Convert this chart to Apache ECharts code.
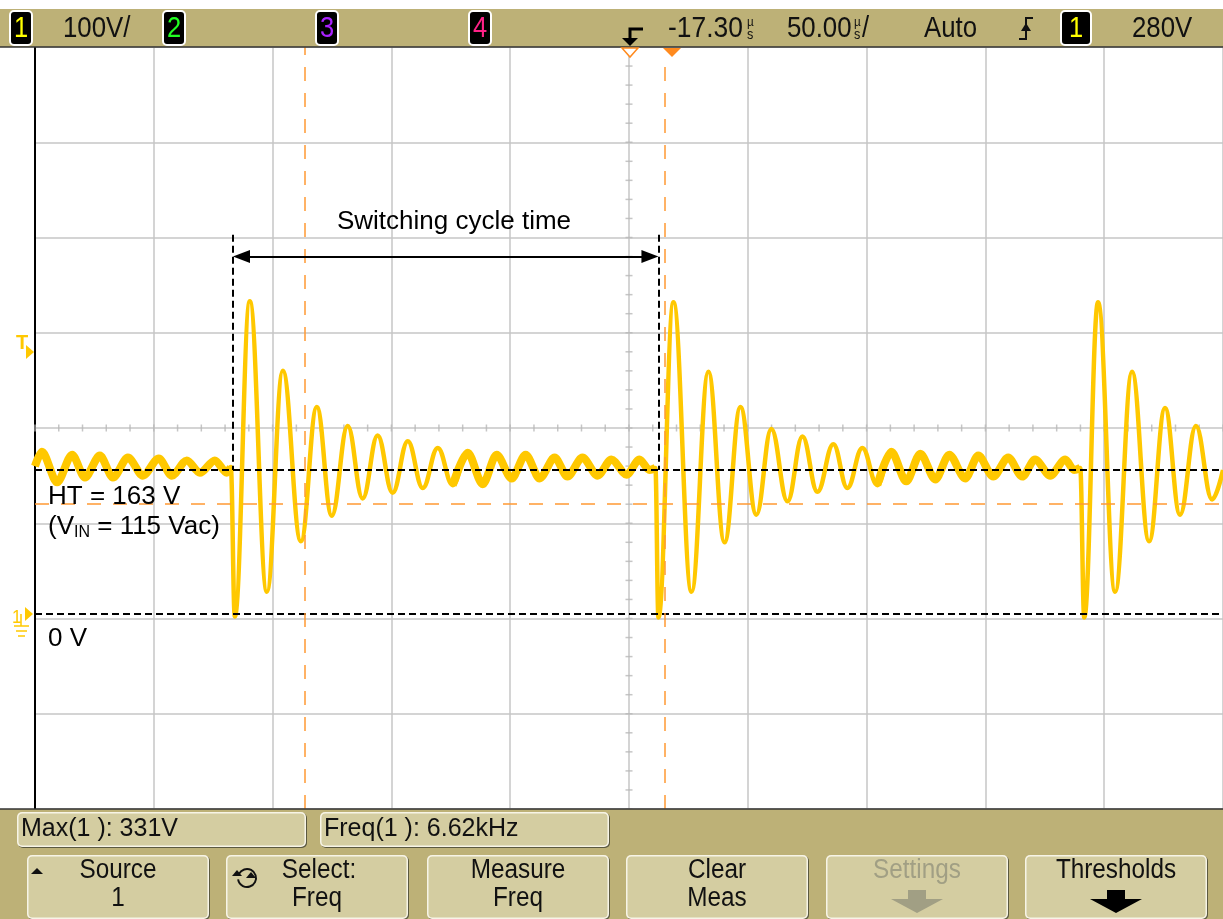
<!DOCTYPE html>
<html>
<head>
<meta charset="utf-8">
<script src="https://cdn.jsdelivr.net/npm/echarts@6/dist/echarts.min.js"></script>
<style>
html,body{margin:0;padding:0;background:#ffffff;}
#chart{width:1223px;height:919px;}
</style>
</head>
<body>
<div id="chart"></div>
<script>
// ---------------- data ----------------
// time in microseconds from the left edge of the screen (50 us/div, 10 div)
const timeUs = [0,2.9,9.3,15.6,21.0,27.3,32.8,39.1,45.4,52.1,57.6,63.9,69.4,75.7,80.7,82.4,
  84.1,90.4,97.6,104.3,111.9,118.6,124.9,131.6,137.9,144.2,150.5,156.9,163.2,169.5,175.8,182.1,
  188.4,194.3,200.6,206.5,212.4,218.7,224.1,230.4,236.8,242.6,249.0,254.4,258.6,261.1,
  262.4,268.7,276.3,283.4,290.2,296.9,303.6,309.9,316.7,323.0,329.3,336.0,341.9,348.2,354.5,
  360.4,366.7,372.6,378.9,384.8,391.5,397.0,403.3,409.6,415.5,420.9,427.3,433.6,437.3,439.9,
  441.6,447.4,454.6,461.7,468.9,475.6,481.9,488.6,495.4,500];
// drain voltage in volts (100 V/div)
const traceV = [155,170,138,167,143,166,143,164,145,163,145,161,148,161,148,154,
  -3,328,23,255,76,217,103,197,121,187,127,181,132,174,135,169,
  136,167,142,167,142,164,144,164,145,162,146,162,151,153,
  -4,327,23,254,75,217,104,194,118,186,128,178,132,174,135,
  170,139,168,141,167,142,166,144,164,144,162,145,162,151,153,
  -4,327,23,254,76,216,104,197,120,151];
// index ranges of the trace where the noisy, low-amplitude ringing shows as a thick band
const noisyRanges = [[0, 15], [30, 45], [60, 75]];

const htLineV = 151;          // black dashed "HT" level
const zeroLineV = 0;          // black dashed 0 V level
const cursorLevelV = 115;     // orange horizontal cursor
const cursorTimesUs = [113.5, 264.9]; // orange vertical cursors
const edgeTimesUs = [83.3, 262.4];    // black dashed switching edges
const edgeTopV = 398;
const arrowV = 375;

const xMin = 0, xMax = 500, xStep = 50;
const yMin = -205, yMax = 595, yStep = 100;
const xMinorStep = 10, yMinorStep = 20;

const topBarTexts = ['100V/', '-17.30', '50.00', 'Auto', '280V'];
const measureTexts = ['Max(1 ): 331V', 'Freq(1 ): 6.62kHz'];
const buttonTexts = [['Source','1'],['Select:','Freq'],['Measure','Freq'],['Clear','Meas'],['Settings',''],['Thresholds','']];
const annotTexts = ['Switching cycle time', 'HT = 163 V', '0 V'];

// ---------------- chart ----------------
const F = "'Liberation Sans', Arial, Helvetica, sans-serif";
const YEL = '#FFC800';
const ORA = '#FF9933';
const KHAKI = '#BDB177';
const FACE = '#D4CDA1';

const trace = timeUs.map((t, i) => [t, traceV[i]]);
const band = timeUs.map((t, i) => noisyRanges.some(r => i >= r[0] && i <= r[1]) ? [t, traceV[i]] : [t, null]);
const centerT = (xMin + xMax) / 2, centerV = (yMin + yMax) / 2;
const hTicks = [], vTicks = [];
for (let t = xMin; t <= xMax + 1e-9; t += xMinorStep) hTicks.push([t, centerV]);
for (let v = yMin; v <= yMax + 1e-9; v += yMinorStep) vTicks.push([centerT, v]);

const measureCtx = document.createElement('canvas').getContext('2d');
function textW(s, size) { measureCtx.font = size + 'px ' + F; return measureCtx.measureText(s).width; }

function T(x, y, text, size, color, align, sx, weight) {
  return { type: 'text', x: x, y: y, scaleX: sx || 1, z: 100, silent: true,
    style: { text: text, fill: color, fontSize: size, fontFamily: F, fontWeight: weight || 'normal',
      align: align || 'left', textAlign: align || 'left',
      verticalAlign: 'middle', textVerticalAlign: 'middle' } };
}
function R(x, y, w, h, fill, r, stroke, lw) {
  return { type: 'rect', z: 90, silent: true, shape: { x: x, y: y, width: w, height: h, r: r || 0 },
    style: { fill: fill, stroke: stroke || null, lineWidth: lw || 0 } };
}
function P(points, fill, z) {
  return { type: 'polygon', z: z || 95, silent: true, shape: { points: points }, style: { fill: fill } };
}
function PL(points, stroke, lw, z) {
  return { type: 'polyline', z: z || 95, silent: true, shape: { points: points }, style: { stroke: stroke, lineWidth: lw, fill: null } };
}
function box(x, y, w, h) {
  return [R(x + 1, y + 1, w, h, '#5B5940', 5), R(x, y, w, h, '#F7F4E6', 5), R(x + 1.5, y + 1.5, w - 3, h - 3, FACE, 4)];
}
function badge(x, w, label, color) {
  return [R(x, 11, w, 34, '#000000', 4, '#FFFFFF', 2), T(x + w / 2, 28.5, label, 30, color, 'center', 0.85)];
}

const g = [];
// top bar
g.push(R(0, 9, 1223, 38, KHAKI));
g.push({ type: 'line', z: 91, silent: true, shape: { x1: 0, y1: 47, x2: 1223, y2: 47 }, style: { stroke: '#333333', lineWidth: 1.5 } });
g.push(...badge(10, 22, '1', '#FFFF00'));
g.push(T(63, 28.5, topBarTexts[0], 30, '#111', 'left', 0.86));
g.push(...badge(163, 22, '2', '#22FF22'));
g.push(...badge(316, 22, '3', '#AA22FF'));
g.push(...badge(469, 22, '4', '#FF2288'));
// trigger position icon
g.push(PL([[643, 29], [630, 29], [630, 39]], '#000', 3));
g.push(P([[622, 38], [638, 38], [630, 46]], '#000'));
g.push(T(668, 28.5, topBarTexts[1], 30, '#111', 'left', 0.88));
g.push(T(747, 22, 'µ', 13, '#111', 'left', 0.9));
g.push(T(747, 35, 's', 14, '#111', 'left', 0.9));
g.push(T(787, 28.5, topBarTexts[2], 30, '#111', 'left', 0.86));
g.push(T(854, 22, 'µ', 13, '#111', 'left', 0.9));
g.push(T(854, 35, 's', 14, '#111', 'left', 0.9));
g.push(T(862, 28.5, '/', 30, '#111', 'left', 0.85));
g.push(T(924, 28.5, topBarTexts[3], 30, '#111', 'left', 0.86));
// trigger edge icon
g.push(PL([[1019, 39], [1026, 39], [1026, 18], [1033, 18]], '#111', 2));
g.push(P([[1021, 31], [1031, 31], [1026, 23]], '#111'));
g.push(...badge(1061, 30, '1', '#FFFF00'));
g.push(T(1132, 28.5, topBarTexts[4], 30, '#111', 'left', 0.86));
// orange time markers under the bar
g.push({ type: 'polygon', z: 95, silent: true, shape: { points: [[622, 48], [638, 48], [630, 57]] }, style: { fill: '#FFFFFF', stroke: '#FF8A1E', lineWidth: 1.5 } });
g.push(P([[663, 48], [681, 48], [672, 57]], '#FF8A1E'));

// left side markers
g.push(T(16, 343, 'T', 20, YEL, 'left', 1, 'bold'));
g.push(P([[26, 345], [26, 359], [34, 352]], YEL));
g.push(T(12, 618, '1', 19, YEL, 'left', 0.9));
g.push(P([[25, 607], [25, 621], [33, 614]], YEL));
g.push(PL([[21, 614], [21, 626]], YEL, 1.5));
g.push(PL([[14, 626], [29, 626]], YEL, 1.5));
g.push(PL([[16, 631], [27, 631]], YEL, 1.5));
g.push(PL([[18, 636], [25, 636]], YEL, 1.5));

// annotations
g.push(T(454, 222, annotTexts[0], 26, '#000', 'center', 1));
g.push(T(48, 497, annotTexts[1], 26, '#000', 'left', 1));
(function () {
  const x0 = 48, y0 = 527;
  const a = '(V', b = 'IN', c = ' = 115 Vac)';
  g.push(T(x0, y0, a, 26, '#000', 'left', 1));
  const xa = x0 + textW(a, 26);
  g.push(T(xa, y0 + 6, b, 16, '#000', 'left', 1));
  g.push(T(xa + textW(b, 16), y0, c, 26, '#000', 'left', 1));
})();
g.push(T(48, 639, annotTexts[2], 26, '#000', 'left', 1));

// bottom panel
g.push(R(0, 809, 1223, 110, KHAKI));
g.push({ type: 'line', z: 91, silent: true, shape: { x1: 0, y1: 809, x2: 1223, y2: 809 }, style: { stroke: '#333333', lineWidth: 1.5 } });
g.push(...box(17, 812, 289, 35));
g.push(T(21, 829.5, measureTexts[0], 25, '#111', 'left', 1.0));
g.push(...box(320, 812, 289, 35));
g.push(T(324, 829.5, measureTexts[1], 25, '#111', 'left', 1.0));
const btnX = [27, 226, 427, 626, 826, 1025];
btnX.forEach((bx, i) => {
  g.push(...box(bx, 855, 182, 64));
  const cx = bx + 91;
  const col = i === 4 ? '#A19F84' : '#111';
  g.push(T(cx + (i === 1 ? 2 : 0), 871, buttonTexts[i][0], 27, col, 'center', 0.9));
  if (buttonTexts[i][1]) g.push(T(cx, 899, buttonTexts[i][1], 27, col, 'center', 0.9));
});
// source up triangle
g.push(P([[31, 874], [43, 874], [37, 868]], '#111', 96));
// select circular arrow icon
g.push({ type: 'arc', z: 96, silent: true, shape: { cx: 247, cy: 878, r: 9, startAngle: Math.PI * 1.15, endAngle: Math.PI * 0.95, clockwise: true }, style: { stroke: '#111', lineWidth: 2, fill: null } });
g.push(P([[232, 876], [242, 876], [237, 870]], '#111', 96));
g.push(P([[246, 878], [256, 878], [251, 872]], '#111', 96));
// settings (gray) and thresholds (black) arrows
[[917, '#A19F84'], [1116, '#000']].forEach(([cx, col]) => {
  g.push(P([[cx - 9, 890], [cx + 9, 890], [cx + 9, 899], [cx + 26, 899], [cx, 913], [cx - 26, 899], [cx - 9, 899]], col, 96));
});

const option = {
  animation: false,
  backgroundColor: '#ffffff',
  grid: { left: 35, top: 47, right: 0, bottom: 110, containLabel: false },
  xAxis: {
    type: 'value', min: xMin, max: xMax, interval: xStep,
    axisLine: { show: false }, axisTick: { show: false }, axisLabel: { show: false },
    splitLine: { show: true, lineStyle: { color: '#C6C6C6', width: 1.5 } }
  },
  yAxis: {
    type: 'value', min: yMin, max: yMax, interval: yStep,
    axisLine: { show: true, onZero: false, lineStyle: { color: '#000000', width: 2 } },
    axisTick: { show: false }, axisLabel: { show: false },
    splitLine: { show: true, lineStyle: { color: '#C6C6C6', width: 1.5 } }
  },
  series: [
    { type: 'scatter', data: hTicks, symbol: 'rect', symbolSize: [1.5, 7], silent: true, z: 1,
      itemStyle: { color: '#B8B8B8' } },
    { type: 'scatter', data: vTicks, symbol: 'rect', symbolSize: [7, 1.5], silent: true, z: 1,
      itemStyle: { color: '#B8B8B8' } },
    { type: 'line', name: 'Ch1 noise band', data: band, showSymbol: false, smooth: 0.3, smoothMonotone: 'x',
      connectNulls: false, z: 2, silent: true, lineStyle: { color: YEL, width: 8 } },
    { type: 'line', name: 'Ch1', data: trace, showSymbol: false, smooth: 0.4, smoothMonotone: 'x',
      z: 3, silent: true, lineStyle: { color: YEL, width: 4.5 } },
    { type: 'line', data: [], z: 5, silent: true,
      markLine: { silent: true, symbol: ['none', 'none'], label: { show: false }, animation: false,
        lineStyle: { color: '#000', width: 2, type: [7, 4] },
        data: [
          [{ coord: [xMin, htLineV] }, { coord: [xMax, htLineV] }],
          [{ coord: [xMin, zeroLineV] }, { coord: [xMax, zeroLineV] }],
          [{ coord: [edgeTimesUs[0], edgeTopV] }, { coord: [edgeTimesUs[0], htLineV] }],
          [{ coord: [edgeTimesUs[1], edgeTopV] }, { coord: [edgeTimesUs[1], htLineV] }]
        ] } },
    { type: 'line', data: [], z: 5, silent: true,
      markLine: { silent: true, symbol: ['none', 'none'], label: { show: false }, animation: false,
        lineStyle: { color: ORA, width: 1.5, type: [14, 12] },
        data: [
          [{ coord: [cursorTimesUs[0], yMin] }, { coord: [cursorTimesUs[0], yMax] }],
          [{ coord: [cursorTimesUs[1], yMin] }, { coord: [cursorTimesUs[1], yMax - 10] }],
          [{ coord: [xMin, cursorLevelV] }, { coord: [xMax, cursorLevelV] }]
        ] } },
    { type: 'line', data: [], z: 6, silent: true,
      markLine: { silent: true, symbol: ['triangle', 'triangle'], symbolSize: [13, 17], label: { show: false }, animation: false,
        lineStyle: { color: '#000', width: 2, type: 'solid' },
        data: [
          [{ coord: [edgeTimesUs[0] + 3.6, arrowV] }, { coord: [edgeTimesUs[1] - 3.6, arrowV] }]
        ] } }
  ],
  graphic: { elements: g }
};

const chart = echarts.init(document.getElementById('chart'), null, { renderer: 'canvas' });
chart.setOption(option);
</script>
</body>
</html>
